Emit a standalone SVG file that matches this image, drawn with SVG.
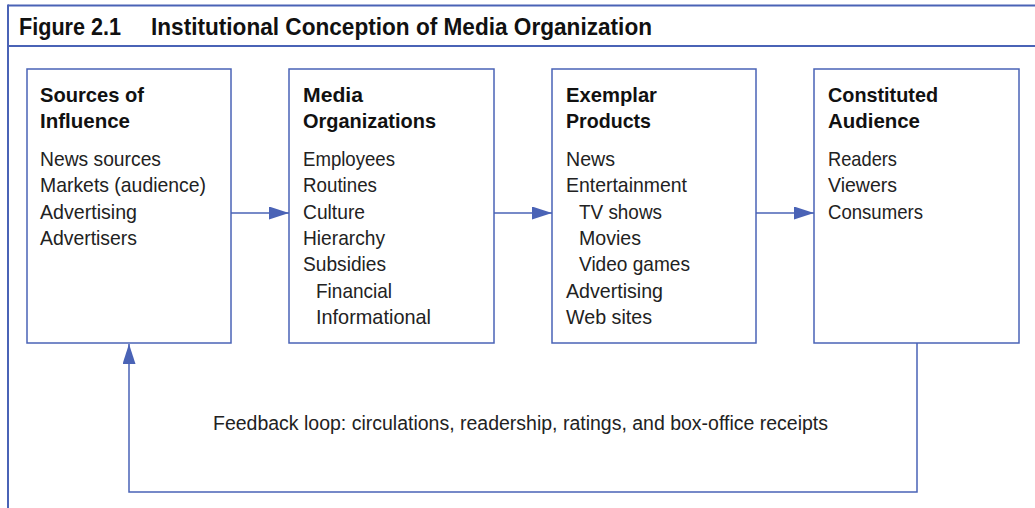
<svg xmlns="http://www.w3.org/2000/svg" width="1035" height="508" viewBox="0 0 1035 508">
<defs>
<marker id="ah" markerUnits="userSpaceOnUse" markerWidth="21" markerHeight="13" refX="20" refY="6.5" orient="auto">
<path d="M0,0 L20,6.5 L0,13 z" fill="#4a63b6"/>
</marker>
<style>
.frame{stroke:#4a63b6;stroke-width:2;fill:none}
.box{fill:#fff;stroke:#4a63b6;stroke-width:1.5}
.conn{stroke:#4a63b6;stroke-width:1.5;fill:none}
.h{font-family:"Liberation Sans",Arial,sans-serif;font-weight:bold;font-size:21px;fill:#111}
.t{font-family:"Liberation Sans",Arial,sans-serif;font-size:21px;fill:#222}
.title{font-family:"Liberation Sans",Arial,sans-serif;font-weight:bold;font-size:23.5px;fill:#111}
.fb{font-family:"Liberation Sans",Arial,sans-serif;font-size:20px;fill:#222}
</style>
</defs>
<rect width="1035" height="508" fill="#fff"/>
<g id="frame">
<line class="frame" x1="8" y1="5.5" x2="1035" y2="5.5"/>
<line class="frame" x1="8" y1="46" x2="1035" y2="46"/>
<line class="frame" x1="8" y1="4.5" x2="8" y2="508"/>
<text class="title" x="19" y="35" textLength="102" lengthAdjust="spacingAndGlyphs">Figure 2.1</text>
<text class="title" x="151" y="35" textLength="501" lengthAdjust="spacingAndGlyphs">Institutional Conception of Media Organization</text>
</g>
<g id="sources">
<rect class="box" x="27" y="69" width="204" height="274"/>
<text class="h" x="40" y="101.5" textLength="104" lengthAdjust="spacingAndGlyphs">Sources of</text>
<text class="h" x="40" y="127.5" textLength="90" lengthAdjust="spacingAndGlyphs">Influence</text>
<text class="t" x="40" y="165.5" textLength="121" lengthAdjust="spacingAndGlyphs">News sources</text>
<text class="t" x="40" y="192" textLength="166" lengthAdjust="spacingAndGlyphs">Markets (audience)</text>
<text class="t" x="40" y="218.5" textLength="97" lengthAdjust="spacingAndGlyphs">Advertising</text>
<text class="t" x="40" y="245" textLength="97" lengthAdjust="spacingAndGlyphs">Advertisers</text>
</g>
<g id="media">
<rect class="box" x="289" y="69" width="205" height="274"/>
<text class="h" x="303" y="101.5" textLength="60" lengthAdjust="spacingAndGlyphs">Media</text>
<text class="h" x="303" y="127.5" textLength="133" lengthAdjust="spacingAndGlyphs">Organizations</text>
<text class="t" x="303" y="165.5" textLength="92" lengthAdjust="spacingAndGlyphs">Employees</text>
<text class="t" x="303" y="192" textLength="74" lengthAdjust="spacingAndGlyphs">Routines</text>
<text class="t" x="303" y="218.5" textLength="62" lengthAdjust="spacingAndGlyphs">Culture</text>
<text class="t" x="303" y="245" textLength="82" lengthAdjust="spacingAndGlyphs">Hierarchy</text>
<text class="t" x="303" y="271" textLength="83" lengthAdjust="spacingAndGlyphs">Subsidies</text>
<text class="t" x="316" y="297.5" textLength="76" lengthAdjust="spacingAndGlyphs">Financial</text>
<text class="t" x="316" y="324" textLength="115" lengthAdjust="spacingAndGlyphs">Informational</text>
</g>
<g id="products">
<rect class="box" x="552" y="69" width="204" height="274"/>
<text class="h" x="566" y="101.5" textLength="91" lengthAdjust="spacingAndGlyphs">Exemplar</text>
<text class="h" x="566" y="127.5" textLength="85" lengthAdjust="spacingAndGlyphs">Products</text>
<text class="t" x="566" y="165.5" textLength="49" lengthAdjust="spacingAndGlyphs">News</text>
<text class="t" x="566" y="192" textLength="121" lengthAdjust="spacingAndGlyphs">Entertainment</text>
<text class="t" x="579" y="218.5" textLength="83" lengthAdjust="spacingAndGlyphs">TV shows</text>
<text class="t" x="579" y="245" textLength="62" lengthAdjust="spacingAndGlyphs">Movies</text>
<text class="t" x="579" y="271" textLength="111" lengthAdjust="spacingAndGlyphs">Video games</text>
<text class="t" x="566" y="297.5" textLength="97" lengthAdjust="spacingAndGlyphs">Advertising</text>
<text class="t" x="566" y="324" textLength="86" lengthAdjust="spacingAndGlyphs">Web sites</text>
</g>
<g id="audience">
<rect class="box" x="814" y="69" width="205" height="274"/>
<text class="h" x="828" y="101.5" textLength="110" lengthAdjust="spacingAndGlyphs">Constituted</text>
<text class="h" x="828" y="127.5" textLength="92" lengthAdjust="spacingAndGlyphs">Audience</text>
<text class="t" x="828" y="165.5" textLength="69" lengthAdjust="spacingAndGlyphs">Readers</text>
<text class="t" x="828" y="192" textLength="69" lengthAdjust="spacingAndGlyphs">Viewers</text>
<text class="t" x="828" y="218.5" textLength="95" lengthAdjust="spacingAndGlyphs">Consumers</text>
</g>
<g id="connectors">
<line class="conn" x1="231" y1="213" x2="289" y2="213" marker-end="url(#ah)"/>
<line class="conn" x1="494" y1="213" x2="552" y2="213" marker-end="url(#ah)"/>
<line class="conn" x1="756" y1="213" x2="814" y2="213" marker-end="url(#ah)"/>
<polyline class="conn" points="917,343 917,492 129,492 129,344" marker-end="url(#ah)"/>
<text class="fb" x="213" y="430" textLength="615" lengthAdjust="spacingAndGlyphs">Feedback loop: circulations, readership, ratings, and box-office receipts</text>
</g>
</svg>
